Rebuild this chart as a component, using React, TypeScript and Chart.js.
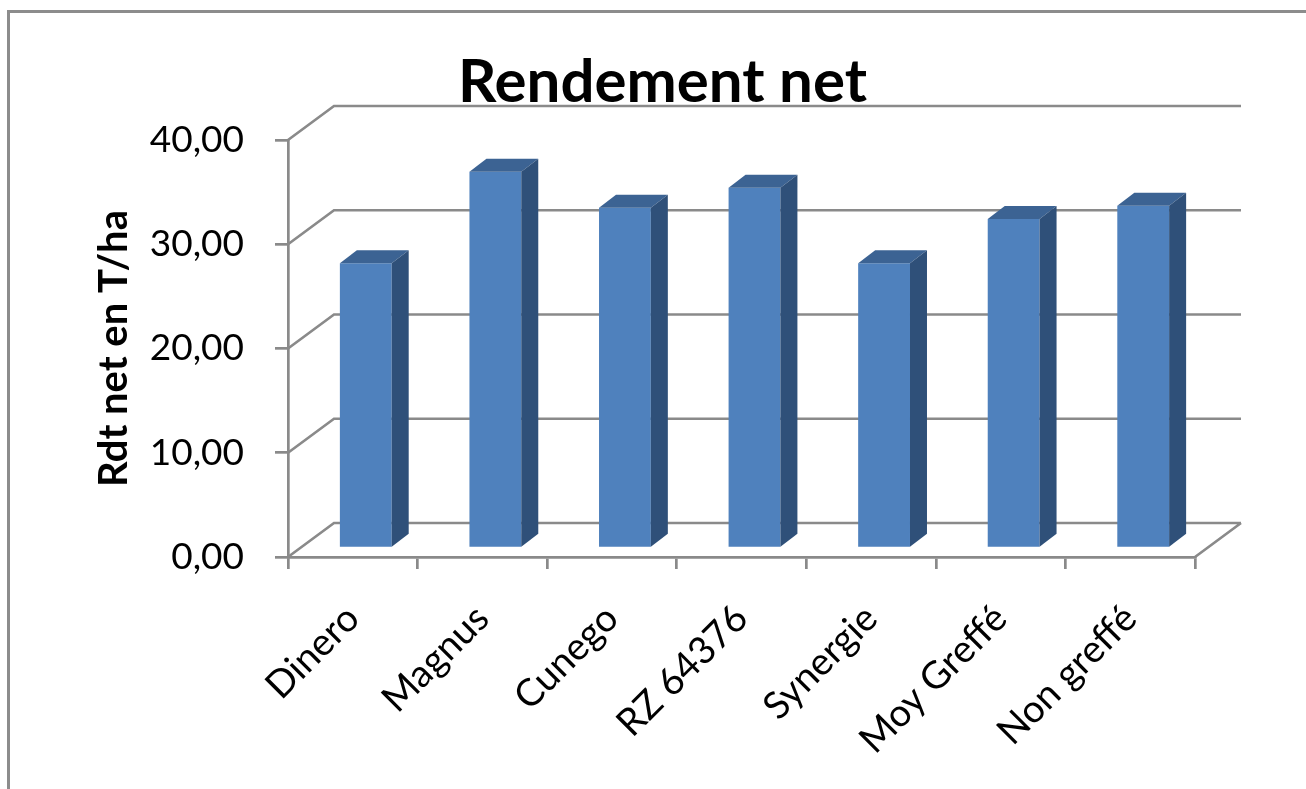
import React, { useEffect, useRef } from 'react';
import { Chart, registerables } from 'chart.js';

Chart.register(...registerables);

// ---- data ----
const categories = ['Dinero', 'Magnus', 'Cunego', 'RZ 64376', 'Synergie', 'Moy Greffé', 'Non greffé'];
const rendementNet = [27.31, 36.1, 32.64, 34.56, 27.31, 31.56, 32.83];
const yTickValues = [0, 10, 20, 30, 40];
const yTickLabels = ['0,00', '10,00', '20,00', '30,00', '40,00'];
const chartTitle = 'Rendement net';
const yAxisTitle = 'Rdt net en T/ha';

// ---- styles ----
const GRID = '#8a8a8a';
const FRONT = '#4F81BD';
const TOP = '#3C6393';
const SIDE = '#2F5079';
const WALL_DX = 46;
const WALL_DY = -34;
const BAR_DX = 13;
const BAR_DY = -9;
const DEPTH_DX = 17;
const DEPTH_DY = -13;

const threeD = {
  id: 'threeD',
  beforeDatasetsDraw(chart: any) {
    const { ctx, chartArea, scales } = chart;
    const { left, right, bottom } = chartArea;
    const y = scales.y;
    ctx.save();
    ctx.strokeStyle = GRID;
    ctx.lineWidth = 2.7;
    ctx.beginPath();
    for (const v of yTickValues) {
      const py = y.getPixelForValue(v);
      ctx.moveTo(left, py);
      ctx.lineTo(left + WALL_DX, py + WALL_DY);
      ctx.lineTo(right + WALL_DX, py + WALL_DY);
    }
    ctx.moveTo(right, bottom);
    ctx.lineTo(right + WALL_DX, bottom + WALL_DY);
    ctx.stroke();
    ctx.restore();
    // bars sit a little deeper in the 3D box
    ctx.save();
    ctx.translate(BAR_DX, BAR_DY);
  },
  afterDatasetsDraw(chart: any) {
    const { ctx } = chart;
    const meta = chart.getDatasetMeta(0);
    meta.data.forEach((bar: any) => {
      const { x, y, base, width } = bar.getProps(['x', 'y', 'base', 'width'], true);
      const l = x - width / 2;
      const r = x + width / 2;
      ctx.fillStyle = TOP;
      ctx.beginPath();
      ctx.moveTo(l, y);
      ctx.lineTo(r, y);
      ctx.lineTo(r + DEPTH_DX, y + DEPTH_DY);
      ctx.lineTo(l + DEPTH_DX, y + DEPTH_DY);
      ctx.closePath();
      ctx.fill();
      ctx.fillStyle = SIDE;
      ctx.beginPath();
      ctx.moveTo(r, y);
      ctx.lineTo(r + DEPTH_DX, y + DEPTH_DY);
      ctx.lineTo(r + DEPTH_DX, base + DEPTH_DY);
      ctx.lineTo(r, base);
      ctx.closePath();
      ctx.fill();
    });
    ctx.restore();
  },
};

export default function App() {
  const canvasRef = useRef<HTMLCanvasElement | null>(null);

  useEffect(() => {
    const canvas = canvasRef.current;
    if (!canvas) return;
    const chart = new Chart(canvas, {
      type: 'bar',
      data: {
        labels: categories,
        datasets: [
          {
            label: chartTitle,
            data: rendementNet,
            backgroundColor: FRONT,
            borderWidth: 0,
            barPercentage: 0.4,
            categoryPercentage: 1,
          },
        ],
      },
      options: {
        responsive: false,
        animation: false,
        devicePixelRatio: 1,
        layout: { padding: { left: 60, top: 140, right: 111, bottom: 0 } },
        plugins: {
          legend: { display: false },
          title: { display: false },
          tooltip: { enabled: false },
        },
        scales: {
          x: {
            type: 'category',
            ticks: {
              font: { family: 'Lato', size: 38 },
              color: '#000',
              minRotation: 45,
              maxRotation: 45,
              padding: 27,
              autoSkip: false,
            },
            grid: {
              drawOnChartArea: false,
              drawTicks: true,
              tickLength: 12,
              color: GRID,
              lineWidth: 2.7,
              offset: true,
            },
            border: { display: true, color: GRID, width: 2.7 },
            afterFit: (s: any) => {
              s.height = 789 - 557;
            },
          },
          y: {
            type: 'linear',
            min: 0,
            max: 40,
            afterBuildTicks: (s: any) => {
              s.ticks = yTickValues.map((v) => ({ value: v }));
            },
            ticks: {
              callback: (v: any) => yTickLabels[yTickValues.indexOf(Number(v))],
              font: { family: 'Lato', size: 37 },
              color: '#000',
              padding: 31,
            },
            grid: {
              drawOnChartArea: false,
              drawTicks: true,
              tickLength: 13,
              color: GRID,
              lineWidth: 2.7,
            },
            border: { display: true, color: GRID, width: 2.7 },
            title: {
              display: true,
              text: yAxisTitle,
              font: { family: 'Lato', size: 40, weight: 'bold' },
              color: '#000',
              padding: { top: 30, bottom: 0 },
            },
            afterFit: (s: any) => {
              s.width = 288 - 60;
            },
          },
        },
      },
      plugins: [threeD],
    });
    return () => chart.destroy();
  }, []);

  return (
    <div
      style={{
        position: 'fixed',
        left: 0,
        top: 0,
        width: 1306,
        height: 789,
        overflow: 'hidden',
        background: '#fff',
      }}
    >
      <div
        style={{
          position: 'absolute',
          left: 7,
          top: 10,
          width: 1400,
          height: 900,
          border: '3px solid #8c8c8c',
        }}
      />
      <div
        style={{
          position: 'absolute',
          left: 312.5,
          top: 43,
          width: 700,
          textAlign: 'center',
          fontFamily: 'Lato',
          fontWeight: 'bold',
          fontSize: 60,
          lineHeight: '72px',
          color: '#000',
          whiteSpace: 'nowrap',
        }}
      >
        {chartTitle}
      </div>
      <canvas ref={canvasRef} width={1306} height={789} style={{ position: 'absolute', left: 0, top: 0 }} />
    </div>
  );
}
